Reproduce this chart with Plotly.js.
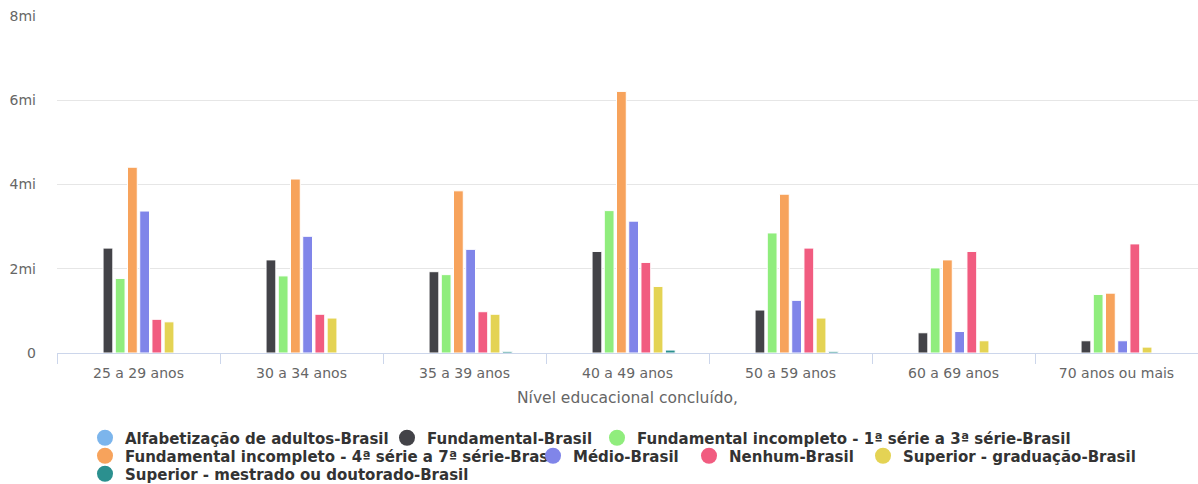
<!DOCTYPE html>
<html>
<head>
<meta charset="utf-8">
<script src="https://cdn.plot.ly/plotly-3.0.1.min.js"></script>
<style>
  html, body { margin: 0; padding: 0; background: #ffffff; }
  #chart { width: 1198px; height: 484px; }
</style>
</head>
<body>
<div id="chart"></div>
<script>
// Categories (age groups)
const categories = ['25 a 29 anos', '30 a 34 anos', '35 a 39 anos', '40 a 49 anos', '50 a 59 anos', '60 a 69 anos', '70 anos ou mais'];

// Series names
const seriesNames = [
  'Alfabetização de adultos-Brasil',
  'Fundamental-Brasil',
  'Fundamental incompleto - 1ª série a 3ª série-Brasil',
  'Fundamental incompleto - 4ª série a 7ª série-Brasil',
  'Médio-Brasil',
  'Nenhum-Brasil',
  'Superior - graduação-Brasil',
  'Superior - mestrado ou doutorado-Brasil'
];

// Values in millions (mi)
const alfabetizacao = [0, 0, 0, 0, 0, 0, 0];
const fundamental = [2.49, 2.21, 1.93, 2.41, 1.02, 0.48, 0.29];
const fundIncompleto13 = [1.77, 1.83, 1.86, 3.38, 2.85, 2.02, 1.39];
const fundIncompleto47 = [4.41, 4.13, 3.85, 6.21, 3.77, 2.21, 1.42];
const medio = [3.37, 2.77, 2.46, 3.13, 1.25, 0.51, 0.29];
const nenhum = [0.80, 0.92, 0.98, 2.15, 2.49, 2.41, 2.59];
const superiorGraduacao = [0.74, 0.83, 0.92, 1.58, 0.83, 0.29, 0.14];
const superiorMestrado = [0, 0, 0.04, 0.07, 0.04, 0, 0];

// Y tick labels
const yTickVals = [0, 2, 4, 6, 8];
const yTickText = ['0', '2mi', '4mi', '6mi', '8mi'];

const xTitle = 'Nível educacional concluído,';

const seriesValues = [alfabetizacao, fundamental, fundIncompleto13, fundIncompleto47, medio, nenhum, superiorGraduacao, superiorMestrado];
const colors = ['#7cb5ec', '#434348', '#90ed7d', '#f7a35c', '#8085e9', '#f15c80', '#e4d354', '#2b908f'];

// Legend symbol positions (pixels) : [centerX, centerY]
const legendPos = [
  [105, 438], [407, 438], [617, 438],
  [105, 456], [553, 456], [709, 456], [883, 456],
  [105, 474]
];

const W = 1198, H = 484;
const traces = [];
const legends = {};
seriesNames.forEach((name, i) => {
  const legendId = i === 0 ? 'legend' : 'legend' + (i + 1);
  traces.push({
    type: 'bar',
    x: categories,
    y: seriesValues[i],
    name: name,
    marker: { color: colors[i], line: { color: '#ffffff', width: 1 } },
    legendgroup: 'g' + i,
    showlegend: false,
    hovertemplate: '%{x}<br>' + name + ': %{y}mi<extra></extra>'
  });
  traces.push({
    type: 'scatter',
    mode: 'markers',
    x: [null],
    y: [null],
    name: name,
    marker: { color: colors[i], size: 16, symbol: 'circle' },
    legendgroup: 'g' + i,
    legend: legendId,
    showlegend: true,
    hoverinfo: 'skip'
  });
  legends[legendId] = {
    orientation: 'h',
    xref: 'container',
    yref: 'container',
    x: (legendPos[i][0] - 20) / W,
    y: 1 - legendPos[i][1] / H,
    xanchor: 'left',
    yanchor: 'middle',
    bgcolor: 'rgba(0,0,0,0)',
    borderwidth: 0,
    font: { family: 'DejaVu Sans', size: 15, color: '#333333', weight: 'bold' },
    itemclick: false,
    itemdoubleclick: false
  };
});

const layout = Object.assign({
  width: W,
  height: H,
  paper_bgcolor: '#ffffff',
  plot_bgcolor: '#ffffff',
  margin: { l: 57, r: 0, t: 16, b: 131, pad: 0 },
  font: { family: 'DejaVu Sans', color: '#666666', size: 14 },
  barmode: 'group',
  bargap: 0.4,
  bargroupgap: 0.2,
  showlegend: true,
  xaxis: {
    type: 'category',
    range: [-0.5, 6.5],
    showline: true,
    linecolor: '#ccd6eb',
    linewidth: 1,
    showgrid: false,
    zeroline: false,
    ticks: 'outside',
    tickson: 'boundaries',
    ticklen: 10,
    tickcolor: '#ccd6eb',
    tickwidth: 1,
    ticklabelstandoff: 7,
    tickfont: { family: 'DejaVu Sans', size: 14, color: '#666666' },
    title: { text: xTitle, font: { family: 'DejaVu Sans', size: 15.5, color: '#666666' }, standoff: 12 },
    fixedrange: true
  },
  yaxis: {
    range: [0, 8],
    tickvals: yTickVals,
    ticktext: yTickText,
    showgrid: true,
    gridcolor: '#e6e6e6',
    gridwidth: 1,
    zeroline: false,
    showline: false,
    ticks: '',
    ticklabelstandoff: 20,
    tickfont: { family: 'DejaVu Sans', size: 14, color: '#666666' },
    fixedrange: true
  }
}, legends);

Plotly.newPlot('chart', traces, layout, { displayModeBar: false, staticPlot: false });
</script>
</body>
</html>
